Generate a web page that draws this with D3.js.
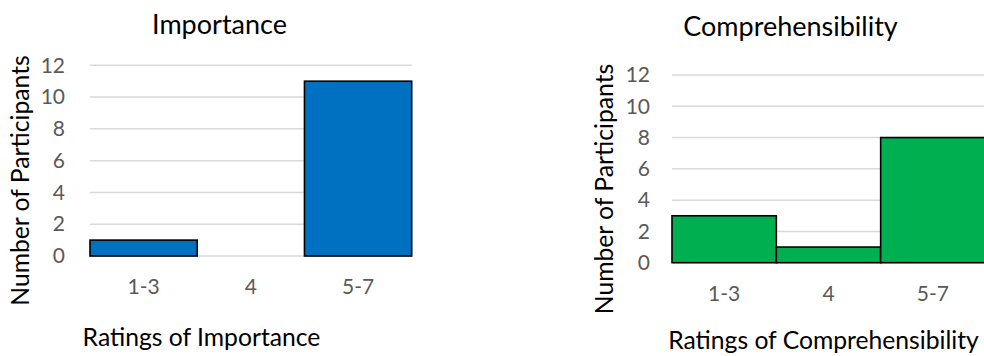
<!DOCTYPE html>
<html>
<head>
<meta charset="utf-8">
<script src="https://cdn.jsdelivr.net/npm/d3@7"></script>
<style>
  html, body { margin: 0; padding: 0; background: #fff; }
  svg { display: block; font-family: Lato, "Open Sans", sans-serif; }
</style>
</head>
<body>
<svg id="chart" width="984" height="356"></svg>
<script>
// Rating groups shared by both histograms
const categories = ["1-3", "4", "5-7"];
// Participant counts per rating group
const importanceCounts = [1, 0, 11];
const comprehensibilityCounts = [3, 1, 8];
// Value axis ticks
const yTicks = [0, 2, 4, 6, 8, 10, 12];

const panels = [
  {
    title: "Importance",
    xTitle: "Ratings of Importance",
    yTitle: "Number of Participants",
    values: importanceCounts,
    color: "#0070C0",
    x0: 90, x1: 411.7, yBase: 256, yTop: 65.3,
    titleX: 219.5, titleY: 34,
    xTitleX: 201.5, xTitleY: 346,
    yTitleX: 20, yTitleY: 180.5,
    tickPad: 25
  },
  {
    title: "Comprehensibility",
    xTitle: "Ratings of Comprehensibility",
    yTitle: "Number of Participants",
    values: comprehensibilityCounts,
    color: "#00B050",
    x0: 672, x1: 985, yBase: 262.7, yTop: 75,
    titleX: 790.5, titleY: 36,
    xTitleX: 823.5, xTitleY: 349,
    yTitleX: 604, yTitleY: 189,
    tickPad: 22
  }
];

const svg = d3.select("#chart");

panels.forEach(p => {
  const g = svg.append("g");

  const x = d3.scaleBand().domain(categories).range([p.x0, p.x1]).padding(0);
  const y = d3.scaleLinear().domain([0, 12]).range([p.yBase, p.yTop]);

  // horizontal gridlines
  g.append("g")
    .selectAll("line")
    .data(yTicks)
    .join("line")
    .attr("x1", p.x0).attr("x2", p.x1)
    .attr("y1", d => y(d)).attr("y2", d => y(d))
    .attr("stroke", "#D9D9D9")
    .attr("stroke-width", 1.5);

  // bars (empty groups have no bar)
  g.append("g")
    .selectAll("rect")
    .data(categories.map((c, i) => ({ c, v: p.values[i] })).filter(d => d.v > 0))
    .join("rect")
    .attr("x", d => x(d.c))
    .attr("y", d => y(d.v))
    .attr("width", x.bandwidth())
    .attr("height", d => y(0) - y(d.v))
    .attr("fill", p.color)
    .attr("stroke", "#000")
    .attr("stroke-width", 1.6);

  // y axis labels
  const yAxis = g.append("g")
    .attr("transform", `translate(${p.x0},0)`)
    .call(d3.axisLeft(y).tickValues(yTicks).tickSize(0).tickPadding(p.tickPad));
  yAxis.select(".domain").remove();
  yAxis.selectAll("text")
    .attr("fill", "#595959")
    .style("font-size", "21px")
    .style("font-family", "Lato, 'Open Sans', sans-serif");

  // x axis labels
  const xAxis = g.append("g")
    .attr("transform", `translate(0,${p.yBase})`)
    .call(d3.axisBottom(x).tickSize(0).tickPadding(23));
  xAxis.select(".domain").remove();
  xAxis.selectAll("text")
    .attr("fill", "#595959")
    .style("font-size", "21px")
    .style("font-family", "Lato, 'Open Sans', sans-serif");

  // chart title
  g.append("text")
    .attr("x", p.titleX).attr("y", p.titleY)
    .attr("text-anchor", "middle")
    .attr("fill", "#000")
    .style("font-size", "27px")
    .text(p.title);

  // x axis title
  g.append("text")
    .attr("x", p.xTitleX).attr("y", p.xTitleY)
    .attr("text-anchor", "middle")
    .attr("fill", "#000")
    .style("font-size", "24.7px")
    .text(p.xTitle);

  // y axis title
  g.append("text")
    .attr("transform", `translate(${p.yTitleX},${p.yTitleY}) rotate(-90)`)
    .attr("text-anchor", "middle")
    .attr("dy", "0.35em")
    .attr("fill", "#000")
    .style("font-size", "24.7px")
    .text(p.yTitle);
});
</script>
</body>
</html>
